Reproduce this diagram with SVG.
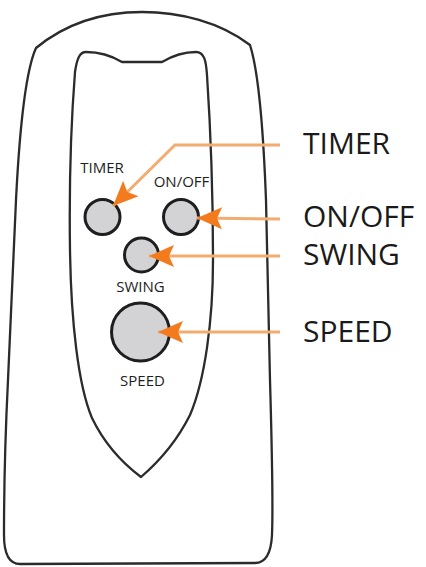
<svg xmlns="http://www.w3.org/2000/svg" width="426" height="567" viewBox="0 0 426 567">
<style>
.body{fill:none;stroke:#2b2b2b;stroke-width:2.3;stroke-linejoin:round}
.btn{fill:#d3d3d5;stroke:#1e1e1e;stroke-width:3}
.small{font-family:"Open Sans","Liberation Sans",sans-serif;font-size:15px;fill:#1e1e1e;text-anchor:middle}
.big{font-family:"Open Sans","Liberation Sans",sans-serif;font-size:30px;fill:#1a1a1a}
.conn{fill:none;stroke:#f2ac70;stroke-width:3;marker-end:url(#ah)}
</style>
<defs>
<marker id="ah" markerUnits="userSpaceOnUse" markerWidth="30" markerHeight="26" refX="26" refY="13" orient="auto" viewBox="0 0 30 26">
<path d="M26,13 L1,2 L6,13 L1,24 Z" fill="#f47a1e"/>
</marker>
</defs>
<rect width="426" height="567" fill="#ffffff"/>
<g id="remote">
<path class="body" d="M36,48 C70,20 110,12 142,12 C180,12 220,22 250,45 C258,70 263,120 266,200 L270,380 C272,450 273,510 272,535 C271,555 265,563 255,563 L20,564 C10,564 4,555 4,535 C4,480 6,420 8,380 L16,200 C20,120 26,70 36,48 Z"/>
<path class="body" d="M86,52 C100,52 112,56 122,62 L162,62 C172,56 184,52 196,52 C204,52 206,60 207,75 C210,120 213,200 213,260 C213,320 205,380 190,415 C175,445 155,465 141,477 C125,465 105,445 92,418 C78,385 71,320 70,250 C69,180 72,110 75,72 C77,58 80,52 86,52 Z"/>
</g>
<g id="btn-timer">
<circle class="btn" cx="102.5" cy="217" r="17.5"/>
<text class="small" x="102" y="173">TIMER</text>
</g>
<g id="btn-onoff">
<circle class="btn" cx="181" cy="217" r="17.5"/>
<text class="small" x="181.5" y="187">ON/OFF</text>
</g>
<g id="btn-swing">
<circle class="btn" cx="141.5" cy="255" r="17"/>
<text class="small" x="140.5" y="292">SWING</text>
</g>
<g id="btn-speed">
<circle class="btn" cx="140.5" cy="332" r="29"/>
<text class="small" x="142.5" y="386">SPEED</text>
</g>
<g id="connectors">
<polyline class="conn" points="280,145 175,145 113,206"/>
<polyline class="conn" points="280,219 197,218"/>
<polyline class="conn" points="280,256 149,256"/>
<polyline class="conn" points="280,332 158,332"/>
</g>
<g id="labels">
<text class="big" x="303" y="154">TIMER</text>
<text class="big" x="303" y="227">ON/OFF</text>
<text class="big" x="303" y="265">SWING</text>
<text class="big" x="303" y="342">SPEED</text>
</g>
</svg>
